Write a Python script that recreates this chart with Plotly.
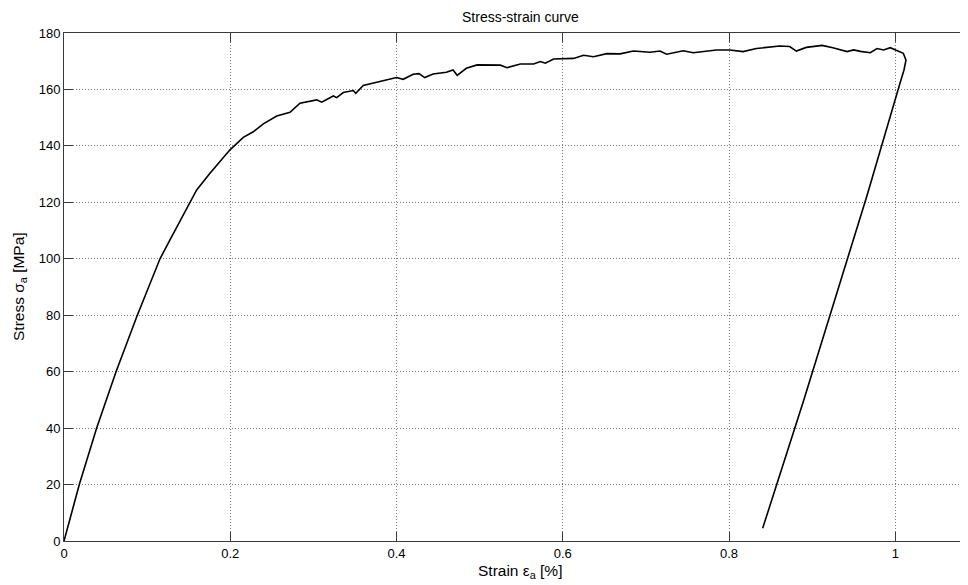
import plotly.graph_objects as go

# Strain [%] and stress [MPa]
strain = [0.0, 0.0184, 0.0393, 0.0626, 0.0882, 0.1155, 0.1275, 0.1524, 0.1596, 0.1756,
          0.1997, 0.2157, 0.2277, 0.2398, 0.2559, 0.2719, 0.2839, 0.304, 0.310, 0.324,
          0.328, 0.336, 0.348, 0.351, 0.360, 0.380, 0.400, 0.408, 0.420, 0.427, 0.434,
          0.444, 0.460, 0.468, 0.473, 0.484, 0.497, 0.525, 0.533, 0.549, 0.565, 0.573,
          0.579, 0.589, 0.601, 0.613, 0.625, 0.637, 0.653, 0.669, 0.685, 0.705, 0.717,
          0.725, 0.745, 0.757, 0.785, 0.801, 0.817, 0.833, 0.861, 0.873, 0.881, 0.893,
          0.912, 0.925, 0.942, 0.950, 0.958, 0.970, 0.978, 0.986, 0.994, 1.0037, 1.0097,
          1.0129, 1.0105, 1.0057, 0.9997, 0.9857, 0.9656, 0.890, 0.879, 0.8566, 0.8405]
stress = [0.0, 20.0, 40.0, 60.0, 80.0, 100.0, 106.7, 120.0, 124.4, 130.3,
          138.6, 143.0, 145.0, 147.8, 150.6, 151.9, 155.1, 156.3, 155.5, 157.7,
          157.1, 158.9, 159.6, 158.6, 161.4, 162.8, 164.2, 163.6, 165.4, 165.6, 164.2,
          165.5, 166.1, 166.9, 165.0, 167.5, 168.7, 168.6, 167.7, 169.0, 169.0, 169.9,
          169.3, 170.8, 171.0, 171.0, 172.1, 171.6, 172.7, 172.6, 173.6, 173.2, 173.6,
          172.5, 173.7, 173.0, 174.0, 174.0, 173.4, 174.5, 175.4, 175.2, 173.6, 174.9,
          175.6, 174.8, 173.4, 174.0, 173.5, 173.0, 174.5, 174.0, 174.8, 173.6, 172.8,
          170.4, 166.9, 162.2, 156.3, 142.1, 122.0, 50.0, 39.9, 20.1, 4.5]

x_ticks = [0, 0.2, 0.4, 0.6, 0.8, 1]
x_tick_labels = ["0", "0.2", "0.4", "0.6", "0.8", "1"]
y_ticks = [0, 20, 40, 60, 80, 100, 120, 140, 160, 180]

# the page places the figure 8 px from the top-left corner
OFF = 8
W, H = 968 - OFF, 585 - OFF
L, T, B, R = 64 - OFF, 33 - OFF, 44, 0
PW, PH = W - L - R, H - T - B
px_per_unit = 831.25
x_max = PW / px_per_unit

font_family = "Liberation Sans, Arial, sans-serif"
axis_color = "#3a3a3a"
grid_color = "#7a7a7a"

fig = go.Figure()
fig.add_trace(go.Scatter(x=strain, y=stress, mode="lines",
                         line=dict(color="black", width=1.6), showlegend=False,
                         hoverinfo="skip"))

fig.update_layout(
    width=W, height=H,
    margin=dict(l=L, r=R, t=T, b=B, autoexpand=False),
    paper_bgcolor="white", plot_bgcolor="white",
    font=dict(family=font_family, size=13, color="black"),
    showlegend=False,
)
fig.update_xaxes(
    range=[0, x_max], tickvals=x_ticks, ticktext=x_tick_labels,
    showline=True, linecolor=axis_color, linewidth=1, mirror="ticks",
    ticks="inside", ticklen=9, tickcolor=axis_color, tickwidth=1,
    showgrid=True, gridcolor=grid_color, gridwidth=1, griddash="1px,2px",
    zeroline=False, tickfont=dict(size=13, color="black"),
)
fig.update_yaxes(
    range=[0, 180], tickvals=y_ticks,
    showline=True, linecolor=axis_color, linewidth=1, mirror=False,
    ticks="inside", ticklen=9, tickcolor=axis_color, tickwidth=1,
    showgrid=True, gridcolor=grid_color, gridwidth=1, griddash="1px,2px",
    zeroline=False, tickfont=dict(size=13, color="black"),
)

# axes centre in page pixels (the axes box runs on past the right edge)
cx = (520 - 64) / PW
fig.add_annotation(text="Stress-strain curve", xref="paper", yref="paper",
                   x=cx, y=1 + 16 / PH, xanchor="center", yanchor="middle",
                   showarrow=False, font=dict(size=14))
fig.add_annotation(text="Strain ε<sub>a</sub> [%]", xref="paper", yref="paper",
                   x=cx, y=-30 / PH, xanchor="center", yanchor="middle",
                   showarrow=False, font=dict(size=15.5))
fig.add_annotation(text="Stress σ<sub>a</sub> [MPa]", xref="paper", yref="paper",
                   x=-45 / PW, y=0.5, xanchor="center", yanchor="middle",
                   textangle=-90, showarrow=False, font=dict(size=15.5))

fig.write_html("out.html")
